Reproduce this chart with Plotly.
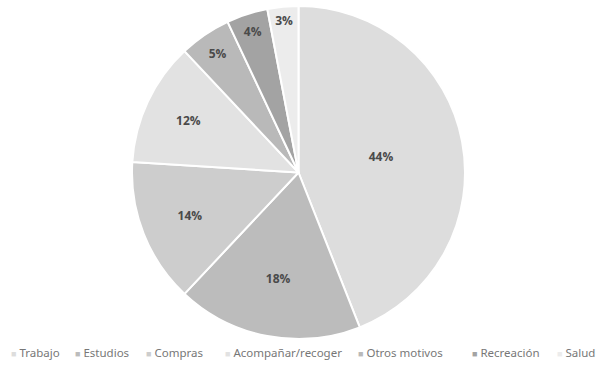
import plotly.graph_objects as go

motivos = ["Trabajo", "Estudios", "Compras", "Acompañar/recoger",
           "Otros motivos", "Recreación", "Salud"]
porcentajes = [44, 18, 14, 12, 5, 4, 3]
colores = ["#dddddd", "#bcbcbc", "#cdcdcd", "#e2e2e2",
           "#b9b9b9", "#a3a3a3", "#ececec"]

# left edge (px) of each legend entry along the bottom row
legend_px = [9, 73, 144, 223, 356, 470, 555]

fig = go.Figure(
    go.Pie(
        labels=motivos,
        values=porcentajes,
        sort=False,
        direction="clockwise",
        rotation=0,
        marker=dict(colors=colores, line=dict(color="#ffffff", width=2)),
        texttemplate="<b>%{value}%</b>",
        textposition="inside",
        insidetextfont=dict(family="Open Sans", size=12, color="#4a4a4a"),
        insidetextorientation="horizontal",
        hoverinfo="label+percent",
        showlegend=False,
    )
)

# compact single-row legend: small coloured square followed by the label
W = 597
for nombre, color, px in zip(motivos, colores, legend_px):
    fig.add_annotation(
        xref="paper", yref="paper",
        x=px / W, y=-0.04,
        xanchor="left", yanchor="middle",
        showarrow=False,
        text=(f'<span style="font-size:9px;color:{color}">■</span>'
              f'\u00a0{nombre}'),
        font=dict(family="Noto Sans", size=11.5, color="#777777"),
    )

fig.update_layout(
    width=597,
    height=365,
    margin=dict(l=0, r=0, t=6, b=26),
    paper_bgcolor="#ffffff",
    plot_bgcolor="#ffffff",
    showlegend=False,
)

fig.write_html("out.html")
